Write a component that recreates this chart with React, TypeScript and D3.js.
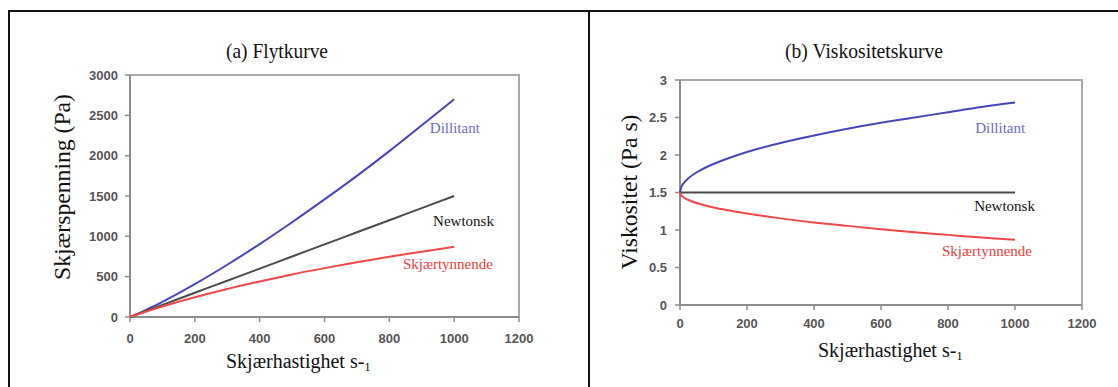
import React from "react";
import * as d3 from "d3";

// ---- data ----
const shearRates = [0, 5, 10, 25, 50, 100, 200, 300, 400, 500, 600, 700, 800, 900, 1000];
const stressDilatant = [0, 7.9, 16.2, 42, 89, 188, 408, 648, 904, 1175, 1458, 1750, 2056, 2376, 2700];
const stressNewtonian = [0, 7.5, 15, 37.5, 75, 150, 300, 450, 600, 750, 900, 1050, 1200, 1350, 1500];
const stressThinning = [0, 7.3, 14.4, 35, 68, 130, 244, 347, 440, 528, 606, 679, 748, 810, 870];
const viscDilatant = [1.5, 1.585, 1.62, 1.69, 1.77, 1.88, 2.04, 2.16, 2.26, 2.35, 2.43, 2.5, 2.57, 2.64, 2.7];
const viscNewtonian = [1.5, 1.5, 1.5, 1.5, 1.5, 1.5, 1.5, 1.5, 1.5, 1.5, 1.5, 1.5, 1.5, 1.5, 1.5];
const viscThinning = [1.5, 1.455, 1.44, 1.4, 1.36, 1.3, 1.22, 1.155, 1.1, 1.055, 1.01, 0.97, 0.935, 0.9, 0.87];

const xTicks = [0, 200, 400, 600, 800, 1000, 1200];
const stressTicks = [0, 500, 1000, 1500, 2000, 2500, 3000];
const viscTicks = [0, 0.5, 1, 1.5, 2, 2.5, 3];

const seriesNames = ["Dillitant", "Newtonsk", "Skjærtynnende"];
// label anchor positions in data units [x, y]
const stressLabelPos = [[925, 2281], [935, 1128], [842, 595]];
const viscLabelPos = [[881, 2.293], [878, 1.253], [782, 0.653]];

// ---- styles ----
const lineColors = ["#4646b8", "#4a4a4a", "#f04848"];
const labelColors = ["#6a6ac4", "#111111", "#ee3c3c"];
const serif = "'Liberation Serif', 'Times New Roman', serif";
const sans = "'Liberation Sans', Arial, sans-serif";
const axisColor = "#8c8c8c";
const tickColor = "#555";

type PanelProps = {
  x0: number; x1: number; yTop: number; yBottom: number;
  yMax: number; yTicks: number[]; yFmt: (v: number) => string;
  series: number[][]; labelPos: number[][];
  title: string; titleX: number; titleW: number;
  yTitle: string; yTitleX: number; yTitleY: number; yTitleW: number;
  xTitleX: number; xTitleY: number;
  tickLabelRight: number; xTickY: number;
};

function Panel(p: PanelProps) {
  const x = d3.scaleLinear().domain([0, 1200]).range([p.x0, p.x1]);
  const y = d3.scaleLinear().domain([0, p.yMax]).range([p.yBottom, p.yTop]);
  const line = d3.line<[number, number]>().x((d) => x(d[0])).y((d) => y(d[1])).curve(d3.curveCatmullRom.alpha(0.5));
  return (
    <g>
      <text x={p.titleX} y={58} fontFamily={serif} fontSize={21} textAnchor="middle"
        textLength={p.titleW} lengthAdjust="spacingAndGlyphs" fill="#111">{p.title}</text>
      {/* frame */}
      <path d={`M${p.x0},${p.yTop}H${p.x1}V${p.yBottom}`} fill="none" stroke="#a8a8a8" strokeWidth={2} />
      {/* axes */}
      <line x1={p.x0} x2={p.x0} y1={p.yTop} y2={p.yBottom} stroke={axisColor} strokeWidth={2} />
      <line x1={p.x0} x2={p.x1} y1={p.yBottom} y2={p.yBottom} stroke={axisColor} strokeWidth={2} />
      {p.yTicks.map((t) => (
        <g key={"y" + t}>
          <line x1={p.x0 - 5} x2={p.x0} y1={y(t)} y2={y(t)} stroke={axisColor} strokeWidth={1.5} />
          <text x={p.tickLabelRight} y={y(t)} dy="0.36em" textAnchor="end" fontFamily={sans}
            fontSize={13} fontWeight="bold" fill={tickColor}>{p.yFmt(t)}</text>
        </g>
      ))}
      {xTicks.map((t) => (
        <g key={"x" + t}>
          <line x1={x(t)} x2={x(t)} y1={p.yBottom} y2={p.yBottom + 5} stroke={axisColor} strokeWidth={1.5} />
          <text x={x(t)} y={p.xTickY} textAnchor="middle" fontFamily={sans}
            fontSize={13} fontWeight="bold" fill={tickColor}>{t}</text>
        </g>
      ))}
      {/* series */}
      {p.series.map((vals, i) => (
        <path key={i}
          d={line(shearRates.map((r, j) => [r, vals[j]] as [number, number])) || ""}
          fill="none" stroke={lineColors[i]} strokeWidth={2} />
      ))}
      {seriesNames.map((n, i) => (
        <text key={n} x={x(p.labelPos[i][0])} y={y(p.labelPos[i][1])} fontFamily={serif}
          fontSize={15} fill={labelColors[i]}>{n}</text>
      ))}
      {/* axis titles */}
      <text transform={`translate(${p.yTitleX},${p.yTitleY}) rotate(-90)`} textAnchor="middle"
        fontFamily={serif} fontSize={23} textLength={p.yTitleW} lengthAdjust="spacingAndGlyphs"
        fill="#111">{p.yTitle}</text>
      <text x={p.xTitleX} y={p.xTitleY} fontFamily={serif} fontSize={20} fill="#111">
        Skjærhastighet s-<tspan fontSize={13} dy={3}>1</tspan>
      </text>
    </g>
  );
}

export default function App() {
  return (
    <svg width={1118} height={387} style={{ position: "absolute", left: 0, top: 0, background: "#fff" }}>
      <rect width={1118} height={387} fill="#fff" />
      <line x1={8} x2={1118} y1={11} y2={11} stroke="#111" strokeWidth={2} />
      <line x1={9} x2={9} y1={10} y2={387} stroke="#111" strokeWidth={2} />
      <line x1={589} x2={589} y1={10} y2={387} stroke="#111" strokeWidth={2} />
      <Panel x0={130} x1={519} yTop={75} yBottom={317} yMax={3000} yTicks={stressTicks}
        yFmt={(v) => String(v)} series={[stressDilatant, stressNewtonian, stressThinning]}
        labelPos={stressLabelPos} title="(a) Flytkurve" titleX={277} titleW={102}
        yTitle="Skjærspenning (Pa)" yTitleX={70} yTitleY={187} yTitleW={186}
        xTitleX={226} xTitleY={368} tickLabelRight={118} xTickY={343} />
      <Panel x0={680} x1={1082} yTop={80} yBottom={305} yMax={3} yTicks={viscTicks}
        yFmt={(v) => String(v)} series={[viscDilatant, viscNewtonian, viscThinning]}
        labelPos={viscLabelPos} title="(b) Viskositetskurve" titleX={864} titleW={158}
        yTitle="Viskositet (Pa s)" yTitleX={637} yTitleY={192} yTitleW={155}
        xTitleX={818} xTitleY={357} tickLabelRight={667} xTickY={328} />
    </svg>
  );
}
